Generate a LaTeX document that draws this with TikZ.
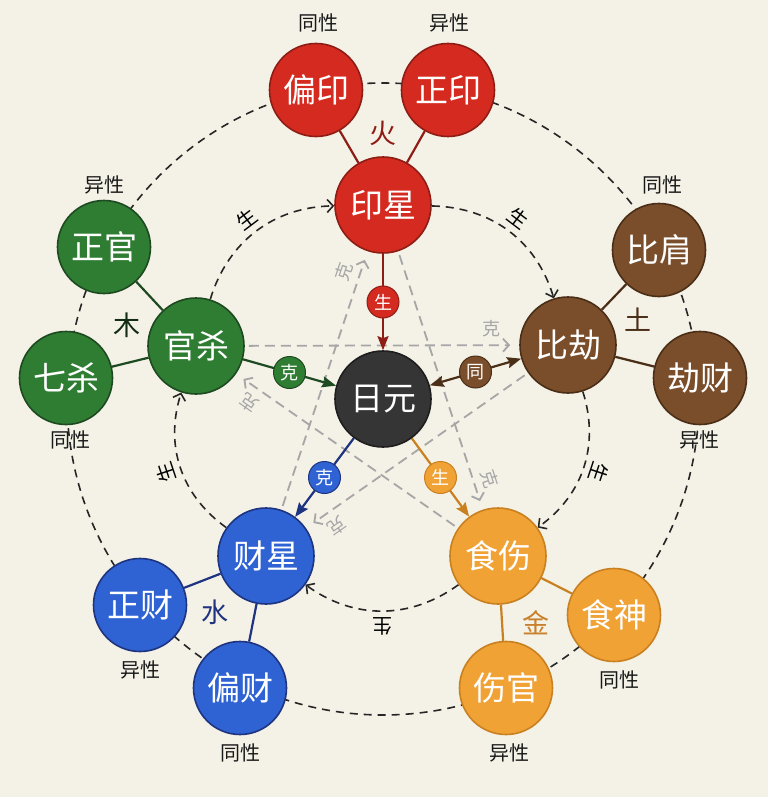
\documentclass[tikz,border=0pt]{standalone}
\usepackage{fontspec}
\setmainfont{Noto Sans CJK SC}
\usetikzlibrary{arrows.meta}
\pgfdeclarelayer{back}
\pgfdeclarelayer{conn}
\pgfsetlayers{back,conn,main}
\definecolor{bgC}{HTML}{F4F1E6}
\definecolor{redF}{HTML}{D42A20}
\definecolor{redD}{HTML}{8E1D15}
\definecolor{greenF}{HTML}{2F7D32}
\definecolor{greenD}{HTML}{1D4A20}
\definecolor{brownF}{HTML}{7A4E2A}
\definecolor{brownD}{HTML}{4A2E17}
\definecolor{darkF}{HTML}{353535}
\definecolor{darkD}{HTML}{1E1E1E}
\definecolor{blueF}{HTML}{2F63D3}
\definecolor{blueD}{HTML}{1E3480}
\definecolor{orangeF}{HTML}{F0A235}
\definecolor{orangeD}{HTML}{C98020}
\definecolor{kgray}{HTML}{A6A6A6}
\definecolor{jinC}{HTML}{C8802A}
\begin{document}
\begin{tikzpicture}[x=1pt,y=1pt,
  grp/.style={circle, minimum size=96pt, inner sep=0pt, line width=1.6pt, text=white, font=\fontsize{33}{33}\selectfont},
  sub/.style={grp, minimum size=93pt},
  badge/.style={circle, minimum size=32pt, inner sep=0pt, line width=1pt, text=white, font=\fontsize{18}{18}\selectfont},
  lbl/.style={text=black!90, font=\fontsize{20}{20}\selectfont, inner sep=1pt},
  elem/.style={font=\fontsize{27}{27}\selectfont, inner sep=1pt},
  tie/.style={line width=2.2pt},
  bigring/.style={black!85, line width=1.6pt, dash pattern=on 8pt off 6pt},
  sheng/.style={black!85, line width=1.6pt, dash pattern=on 8pt off 6pt, -{Straight Barb[length=6pt,width=13pt]}},
  slabel/.style={midway, sloped, allow upside down, above=5pt, text=black, font=\fontsize{20}{20}\selectfont, inner sep=1pt},
  kline/.style={kgray, line width=1.8pt, dash pattern=on 10pt off 6pt, -{Straight Barb[length=6pt,width=13pt]}, shorten >=9pt, shorten <=4pt},
  klabel/.style={pos=0.9, sloped, allow upside down, above=6pt, text=kgray, font=\fontsize{18}{18}\selectfont, inner sep=1pt},
  barrow/.style={line width=2.2pt, -{Stealth[length=14pt,width=11pt,inset=2pt]}}
]
\begin{pgfonlayer}{back}
\fill[bgC] (0,0) rectangle (768,-797);
\end{pgfonlayer}
\useasboundingbox (0,0) rectangle (768,-797);

% centre
\node[grp, fill=darkF, draw=darkD] (riyuan) at (383,-399) {日元};
% group nodes
\node[grp, fill=redF, draw=redD] (yinxing) at (383,-205) {印星};
\node[grp, fill=greenF, draw=greenD] (guansha) at (196,-346) {官杀};
\node[grp, fill=brownF, draw=brownD] (bijie) at (568,-345) {比劫};
\node[grp, fill=blueF, draw=blueD] (caixing) at (266,-556) {财星};
\node[grp, fill=orangeF, draw=orangeD] (shishang) at (498,-556) {食伤};
% sub nodes
\node[sub, fill=redF, draw=redD] (pianyin) at (316,-90) {偏印};
\node[sub, fill=redF, draw=redD] (zhengyin) at (448,-90) {正印};
\node[sub, fill=greenF, draw=greenD] (zhengguan) at (104,-247) {正官};
\node[sub, fill=greenF, draw=greenD] (qisha) at (66,-378) {七杀};
\node[sub, fill=brownF, draw=brownD] (bijian) at (659,-250) {比肩};
\node[sub, fill=brownF, draw=brownD] (jiecai) at (700,-378) {劫财};
\node[sub, fill=blueF, draw=blueD] (zhengcai) at (140,-605) {正财};
\node[sub, fill=blueF, draw=blueD] (piancai) at (240,-688) {偏财};
\node[sub, fill=orangeF, draw=orangeD] (shishen) at (614,-615) {食神};
\node[sub, fill=orangeF, draw=orangeD] (shangguan) at (506,-688) {伤官};

% gender labels
\node[lbl] (t1) at (318,-23) {同性};
\node[lbl] (t2) at (449,-23) {异性};
\node[lbl] (t3) at (104,-185) {异性};
\node[lbl] (t4) at (662,-185) {同性};
\node[lbl] (t5) at (70,-440) {同性};
\node[lbl] (t6) at (699,-440) {异性};
\node[lbl] (t7) at (140,-670) {异性};
\node[lbl] (t8) at (240,-753) {同性};
\node[lbl] (t9) at (619,-680) {同性};
\node[lbl] (t10) at (509,-753) {异性};

% element labels
\node[elem, text=redD] (huo) at (383,-133) {火};
\node[elem, text=greenD!60!black] (mu) at (127,-325) {木};
\node[elem, text=brownD] (tu) at (638,-320) {土};
\node[elem, text=blueD] (shui) at (215,-612) {水};
\node[elem, text=jinC] (jin) at (536,-623) {金};

\begin{pgfonlayer}{conn}
% outer ring
\draw[bigring] (riyuan.center) circle[radius=316];
% ties
\draw[tie, redD] (yinxing) -- (pianyin);
\draw[tie, redD] (yinxing) -- (zhengyin);
\draw[tie, greenD] (guansha) -- (zhengguan);
\draw[tie, greenD] (guansha) -- (qisha);
\draw[tie, brownD] (bijie) -- (bijian);
\draw[tie, brownD] (bijie) -- (jiecai);
\draw[tie, blueD] (caixing) -- (zhengcai);
\draw[tie, blueD] (caixing) -- (piancai);
\draw[tie, orangeD] (shishang) -- (shishen);
\draw[tie, orangeD] (shishang) -- (shangguan);
% sheng cycle
\draw[sheng] (guansha) to[bend left=36] node[slabel]{生} (yinxing);
\draw[sheng] (yinxing) to[bend left=36] node[slabel]{生} (bijie);
\draw[sheng] (bijie) to[bend left=36] node[slabel]{生} (shishang);
\draw[sheng] (shishang) to[bend left=36] node[slabel]{生} (caixing);
\draw[sheng] (caixing) to[bend left=36] node[slabel]{生} (guansha);
% ke star
\draw[kline] (guansha) -- node[klabel]{克} (bijie);
\draw[kline] (bijie) -- node[klabel]{克} (caixing);
\draw[kline] (caixing) -- node[klabel]{克} (yinxing);
\draw[kline] (yinxing) -- node[klabel]{克} (shishang);
\draw[kline] (shishang) -- node[klabel]{克} (guansha);
% relations to riyuan
\draw[barrow, redD] (yinxing) -- node[badge, fill=redF, draw=redD] (b1) {生} (riyuan);
\draw[barrow, greenD] (guansha) -- node[badge, fill=greenF, draw=greenD] (b2) {克} (riyuan);
\draw[line width=2.2pt, brownD, {Stealth[length=14pt,width=11pt,inset=2pt]}-{Stealth[length=14pt,width=11pt,inset=2pt]}] (riyuan) -- node[badge, fill=brownF, draw=brownD] (b3) {同} (bijie);
\draw[barrow, blueD] (riyuan) -- node[badge, fill=blueF, draw=blueD] (b4) {克} (caixing);
\draw[barrow, orangeD] (riyuan) -- node[badge, fill=orangeF, draw=orangeD] (b5) {生} (shishang);
\end{pgfonlayer}
\end{tikzpicture}
\end{document}
